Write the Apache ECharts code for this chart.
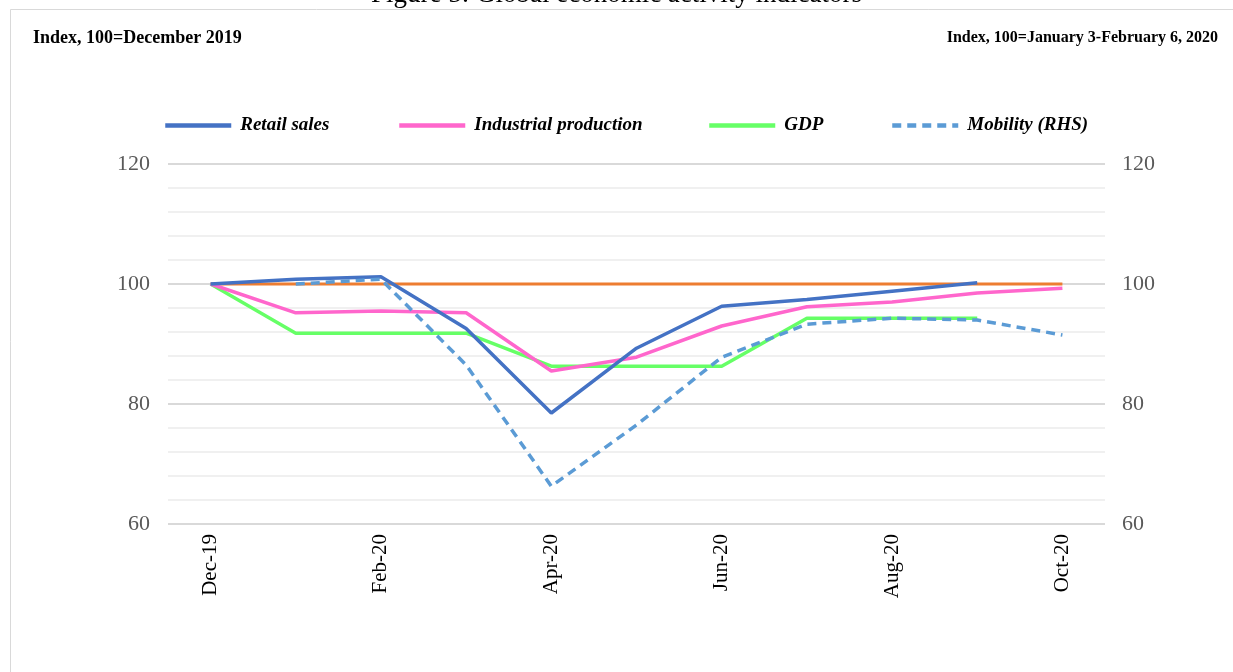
<!DOCTYPE html>
<html>
<head>
<meta charset="utf-8">
<script src="https://cdn.jsdelivr.net/npm/echarts@6/dist/echarts.min.js"></script>
<style>html,body{margin:0;padding:0;background:#fff;}#c{width:1233px;height:672px;}</style>
</head>
<body>
<div id="c"></div>
<script>
const categories = ['Dec-19','Jan-20','Feb-20','Mar-20','Apr-20','May-20','Jun-20','Jul-20','Aug-20','Sep-20','Oct-20'];
const retailSales = [100, 100.8, 101.2, 92.6, 78.5, 89.3, 96.3, 97.4, 98.8, 100.2, null];
const industrialProduction = [100, 95.2, 95.5, 95.2, 85.5, 87.8, 93.0, 96.2, 97.0, 98.5, 99.3];
const gdp = [100, 91.8, 91.8, 91.8, 86.3, 86.3, 86.3, 94.3, 94.3, 94.3, null];
const mobility = [null, 100, 100.8, 86.5, 66.3, 76.5, 87.8, 93.3, 94.3, 94.0, 91.5];
const baseline = [100, 100, 100, 100, 100, 100, 100, 100, 100, 100, 100];
const yTicks = [60, 80, 100, 120];

const serif = '"Liberation Serif", "Times New Roman", serif';
const chart = echarts.init(document.getElementById('c'), null, {renderer: 'canvas'});

function legendAt(name, left) {
  return {
    data: [name], left: left, top: 116, padding: 0,
    itemWidth: 66, itemHeight: 14, itemGap: 0,
    itemStyle: {opacity: 0},
    lineStyle: {width: 4.5},
    textStyle: {fontFamily: serif, fontSize: 19, fontWeight: 'bold', fontStyle: 'italic', color: '#000', padding: [0, 0, 0, 4]}
  };
}

const option = {
  backgroundColor: '#fff',
  animation: false,
  graphic: [
    {type: 'rect', shape: {x: 10.5, y: 9.5, width: 1260, height: 700}, style: {fill: 'none', stroke: '#d9d9d9', lineWidth: 1}},
    {type: 'text', left: 'center', top: -19, style: {text: 'Figure 5: Global economic activity indicators', fontFamily: serif, fontSize: 27, fill: '#000'}},
    {type: 'text', left: 33, top: 29, style: {text: 'Index, 100=December 2019', fontFamily: serif, fontSize: 18, fontWeight: 'bold', fill: '#000'}},
    {type: 'text', right: 15, top: 30, style: {text: 'Index, 100=January 3-February 6, 2020', fontFamily: serif, fontSize: 16, fontWeight: 'bold', fill: '#000'}}
  ],
  legend: [
    legendAt('Retail sales', 163),
    legendAt('Industrial production', 397),
    legendAt('GDP', 707),
    legendAt('Mobility (RHS)', 890)
  ],
  grid: {left: 168, right: 128, top: 164, bottom: 148, containLabel: false},
  xAxis: {
    type: 'category', data: categories, boundaryGap: true,
    axisLine: {show: false}, axisTick: {show: false},
    axisLabel: {interval: 1, rotate: 90, margin: 10, fontFamily: serif, fontSize: 21, color: '#000'}
  },
  yAxis: [
    {
      type: 'value', min: 60, max: 120, interval: 4, position: 'left',
      axisLine: {show: false}, axisTick: {show: false},
      axisLabel: {margin: 18, fontFamily: serif, fontSize: 22, color: '#595959',
        formatter: v => yTicks.indexOf(v) >= 0 ? String(v) : ''},
      splitLine: {show: true, lineStyle: {color: ['#d9d9d9', '#f0f0f0', '#f0f0f0', '#f0f0f0', '#f0f0f0'], width: 2}}
    },
    {
      type: 'value', min: 60, max: 120, interval: 20, position: 'right',
      axisLine: {show: false}, axisTick: {show: false}, splitLine: {show: false},
      axisLabel: {margin: 17, fontFamily: serif, fontSize: 22, color: '#595959'}
    }
  ],
  series: [
    {name: '100', type: 'line', data: baseline, symbol: 'none', z: 1,
      lineStyle: {color: '#ed7d31', width: 3}, itemStyle: {color: '#ed7d31'}},
    {name: 'Retail sales', type: 'line', data: retailSales, symbol: 'none', z: 4,
      lineStyle: {color: '#4472c4', width: 3.5}, itemStyle: {color: '#4472c4'}},
    {name: 'Industrial production', type: 'line', data: industrialProduction, symbol: 'none', z: 3,
      lineStyle: {color: '#ff66cc', width: 3.5}, itemStyle: {color: '#ff66cc'}},
    {name: 'GDP', type: 'line', data: gdp, symbol: 'none', z: 2,
      lineStyle: {color: '#66ff66', width: 3.5}, itemStyle: {color: '#66ff66'}},
    {name: 'Mobility (RHS)', type: 'line', yAxisIndex: 1, data: mobility, symbol: 'none', z: 5,
      lineStyle: {color: '#5b9bd5', width: 3.5, type: [9, 6]}, itemStyle: {color: '#5b9bd5'}}
  ]
};
chart.setOption(option);
</script>
</body>
</html>
